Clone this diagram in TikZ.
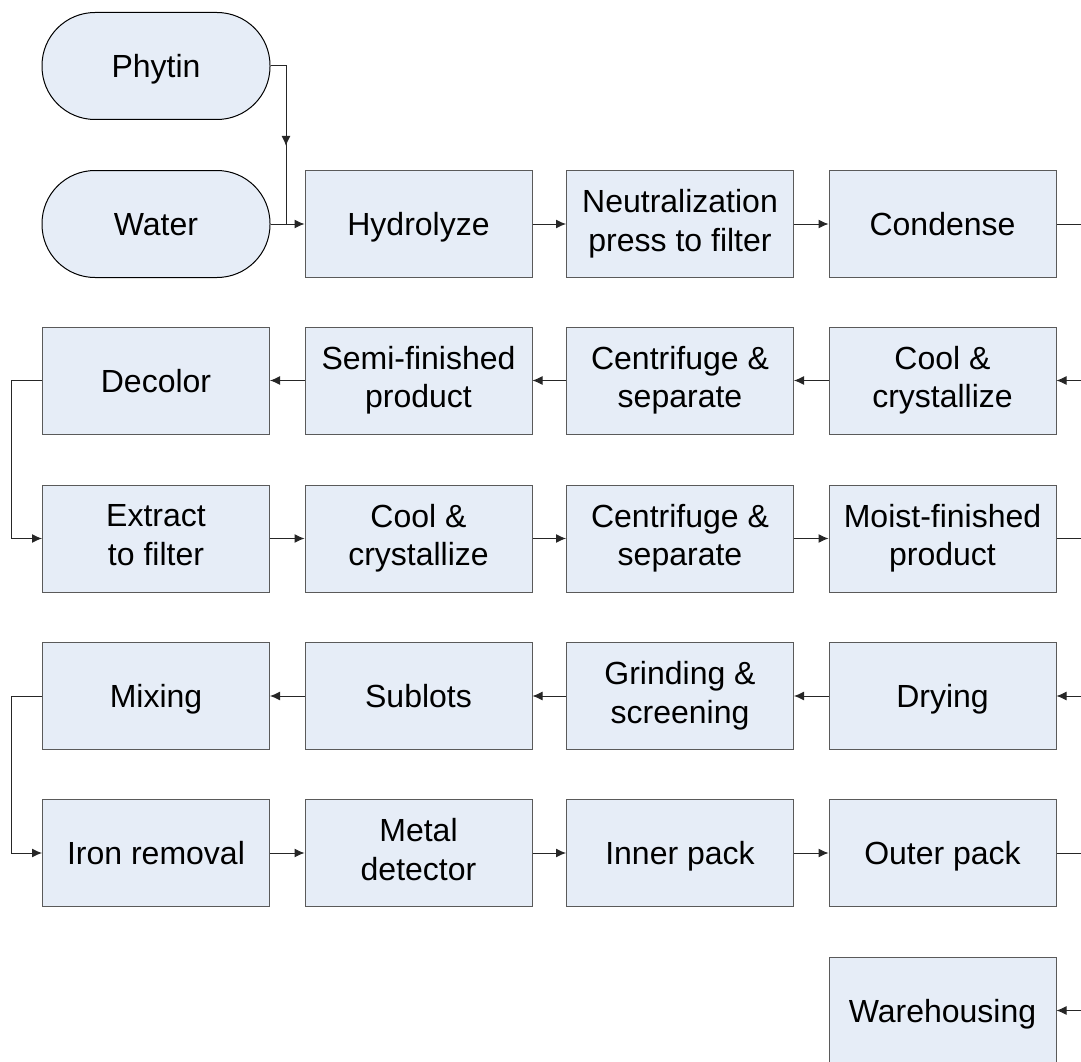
\documentclass[tikz,border=0pt]{standalone}
\usepackage{fontspec}
\setmainfont{Liberation Sans}
\usetikzlibrary{arrows.meta,decorations.markings}

\definecolor{boxfill}{RGB}{230,237,247}
\definecolor{boxline}{RGB}{90,90,90}

\newcommand\boxstrut{\rule[-7.5pt]{0pt}{38.5pt}}

\tikzset{
    stepbox/.style={draw=boxline, fill=boxfill, line width=1pt,
        minimum width=227pt, minimum height=107pt, inner sep=0pt,
        align=center, font=\fontsize{32}{38.5}\selectfont,
        execute at begin node=\boxstrut, execute at end node=\boxstrut},
    source/.style={stepbox, draw=black, rounded corners=53pt, minimum width=228pt},
    link/.style={line width=1pt, draw=black!85},
    arr/.style={link, -{Latex[length=10pt,width=9pt]}}
}

\begin{document}
\begin{tikzpicture}[x=1pt,y=-1pt]
    \useasboundingbox (0,0) rectangle (1081,1062);

    % sources
    \node[source] (phytin) at (156,66) {Phytin};
    \node[source] (water) at (156,224) {Water};
    \coordinate (join) at (286,224);

    % row 1
    \node[stepbox] (hydro) at (418.5,224) {Hydrolyze};
    \node[stepbox] (neutral) at (680,224) {Neutralization\\press to filter};
    \node[stepbox] (condense) at (942.5,224) {Condense};

    % row 2
    \node[stepbox] (coolA) at (942.5,380.5) {Cool \&\\crystallize};
    \node[stepbox] (centA) at (680,380.5) {Centrifuge \&\\separate};
    \node[stepbox] (semi) at (418.5,380.5) {Semi-finished\\product};
    \node[stepbox] (decolor) at (156,380.5) {Decolor};

    % row 3
    \node[stepbox] (extract) at (156,538.5) {Extract\\to filter};
    \node[stepbox] (coolB) at (418.5,538.5) {Cool \&\\crystallize};
    \node[stepbox] (centB) at (680,538.5) {Centrifuge \&\\separate};
    \node[stepbox] (moist) at (942.5,538.5) {Moist-finished\\product};

    % row 4
    \node[stepbox] (drying) at (942.5,696) {Drying};
    \node[stepbox] (grind) at (680,696) {Grinding \&\\screening};
    \node[stepbox] (sublots) at (418.5,696) {Sublots};
    \node[stepbox] (mixing) at (156,696) {Mixing};

    % row 5
    \node[stepbox] (iron) at (156,853) {Iron removal};
    \node[stepbox] (metal) at (418.5,853) {Metal\\detector};
    \node[stepbox] (inner) at (680,853) {Inner pack};
    \node[stepbox] (outer) at (942.5,853) {Outer pack};

    % row 6
    \node[stepbox] (ware) at (942.5,1010.5) {Warehousing};

    % loose ends at the right border
    \coordinate (r1) at (1081,224);
    \coordinate (r2) at (1081,380.5);
    \coordinate (r3) at (1081,538.5);
    \coordinate (r4) at (1081,696);
    \coordinate (r5) at (1081,853);
    \coordinate (r6) at (1081,1010.5);

    % connectors
    \draw[link, postaction={decorate}, decoration={markings,
        mark=at position 0.55 with {\arrow{Latex[length=10pt,width=9pt]}}}]
        (phytin.east) -| (join);
    \draw[arr] (water) -- (hydro);
    \draw[arr] (hydro) -- (neutral);
    \draw[arr] (neutral) -- (condense);
    \draw[link] (condense) -- (r1);

    \draw[arr] (r2) -- (coolA);
    \draw[arr] (coolA) -- (centA);
    \draw[arr] (centA) -- (semi);
    \draw[arr] (semi) -- (decolor);
    \draw[arr] (decolor.west) -- ++(-31,0) |- (extract.west);

    \draw[arr] (extract) -- (coolB);
    \draw[arr] (coolB) -- (centB);
    \draw[arr] (centB) -- (moist);
    \draw[link] (moist) -- (r3);

    \draw[arr] (r4) -- (drying);
    \draw[arr] (drying) -- (grind);
    \draw[arr] (grind) -- (sublots);
    \draw[arr] (sublots) -- (mixing);
    \draw[arr] (mixing.west) -- ++(-31,0) |- (iron.west);

    \draw[arr] (iron) -- (metal);
    \draw[arr] (metal) -- (inner);
    \draw[arr] (inner) -- (outer);
    \draw[link] (outer) -- (r5);

    \draw[arr] (r6) -- (ware);
\end{tikzpicture}
\end{document}
